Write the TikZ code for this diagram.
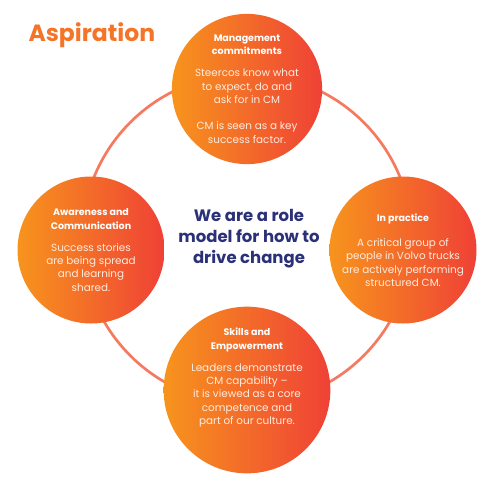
\documentclass[tikz,border=0pt]{standalone}
\usepackage{fontspec}
\setmainfont{Poppins}
\usetikzlibrary{positioning,calc}
\definecolor{cOrange}{RGB}{247,148,29}
\definecolor{cRed}{RGB}{239,65,54}
\definecolor{ring}{RGB}{246,122,96}
\definecolor{navy}{RGB}{43,49,120}
\definecolor{pale}{RGB}{255,236,222}
\definecolor{title}{RGB}{244,116,40}

\tikzset{
  bubble/.style={circle, minimum size=147pt, inner sep=0pt,
    left color=cOrange, right color=cRed, text=pale, align=center,
    font=\fontsize{10.4}{13.3}\selectfont},
  hubtext/.style={align=center, text=navy,
    font=\fontsize{16.5}{21}\selectfont\bfseries},
}
\newcommand{\hd}[1]{{\fontsize{9.5}{12}\selectfont\bfseries\color{white}#1}}

\begin{document}
\begin{tikzpicture}[x=1pt,y=-1pt]
  \useasboundingbox[fill=white] (0,0) rectangle (490,480);
  % ring behind the four bubbles
  \coordinate (hub) at (247,239);
  \draw[ring, line width=2.7pt] (hub) circle (165pt);

  \node[anchor=west, text=title, font=\fontsize{23.5}{26}\selectfont\bfseries]
    (aspiration) at (25,35) {Aspiration};

  \node[hubtext] (role) at ($(hub)+(2,0)$) {We are a role\\model for how to\\drive change};

  \node[bubble] (mgmt) at (247,89)
    {\hd{Management}\\\hd{commitments}\\[9pt]
     Steercos know what\\to expect, do and\\ask for in CM\\[13pt]
     CM is seen as a key\\success factor.};
  \node[bubble] (aware) at (91,250)
    {\hd{Awareness and}\\\hd{Communication}\\[9pt]
     Success stories\\are being spread\\and learning\\shared.};
  \node[bubble] (practice) at (403,250)
    {\hd{In practice}\\[12pt]
     A critical group of\\people in Volvo trucks\\are actively performing\\structured CM.};
  \node[bubble] (skills) at (247,390)
    {\hd{Skills and}\\\hd{Empowerment}\\[9pt]
     Leaders demonstrate\\CM capability --\\it is viewed as a core\\competence and\\part of our culture.\\[14pt]};
\end{tikzpicture}
\end{document}
